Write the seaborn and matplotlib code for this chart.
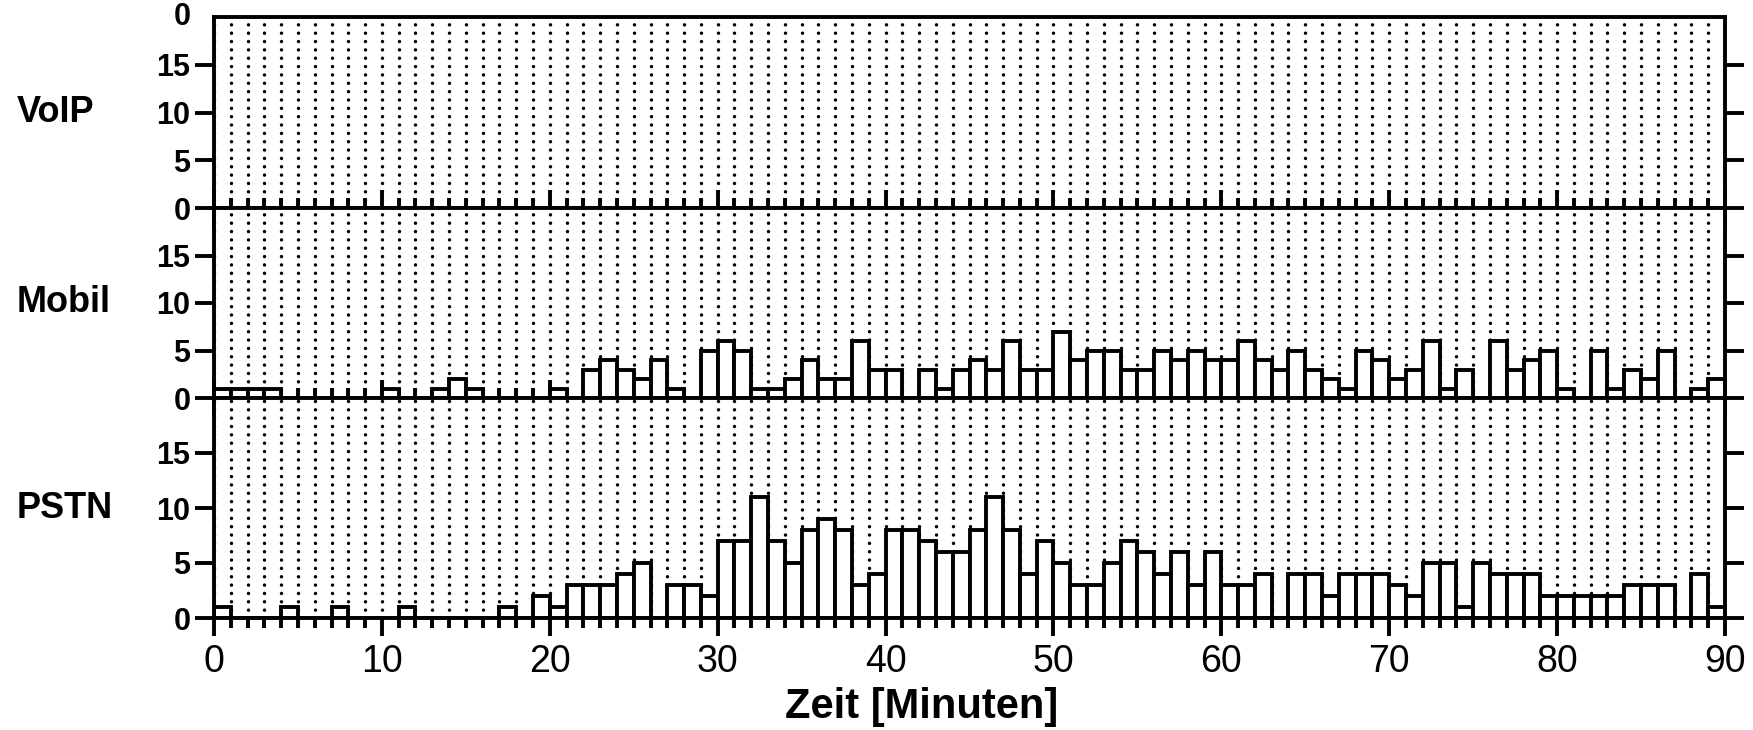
import numpy as np
import pandas as pd
import matplotlib
matplotlib.use("Agg")
import matplotlib.pyplot as plt
import seaborn as sns
from matplotlib.ticker import MultipleLocator

sns.set_theme(style="white")
plt.rcParams["font.family"] = ["Liberation Sans", "DejaVu Sans"]
plt.rcParams["lines.scale_dashes"] = False

# ---------------- data ----------------
minutes = list(range(90))
panel_names = ["VoIP", "Mobil", "PSTN"]

voip_counts = [0, 0, 0, 0, 0, 0, 0, 0, 0, 0,
               0, 0, 0, 0, 0, 0, 0, 0, 0, 0,
               0, 0, 0, 0, 0, 0, 0, 0, 0, 0,
               0, 0, 0, 0, 0, 0, 0, 0, 0, 0,
               0, 0, 0, 0, 0, 0, 0, 0, 0, 0,
               0, 0, 0, 0, 0, 0, 0, 0, 0, 0,
               0, 0, 0, 0, 0, 0, 0, 0, 0, 0,
               0, 0, 0, 0, 0, 0, 0, 0, 0, 0,
               0, 0, 0, 0, 0, 0, 0, 0, 0, 0]

mobil_counts = [1, 1, 1, 1, 0, 0, 0, 0, 0, 0,
                1, 0, 0, 1, 2, 1, 0, 0, 0, 0,
                1, 0, 3, 4, 3, 2, 4, 1, 0, 5,
                6, 5, 1, 1, 2, 4, 2, 2, 6, 3,
                3, 0, 3, 1, 3, 4, 3, 6, 3, 3,
                7, 4, 5, 5, 3, 3, 5, 4, 5, 4,
                4, 6, 4, 3, 5, 3, 2, 1, 5, 4,
                2, 3, 6, 1, 3, 0, 6, 3, 4, 5,
                1, 0, 5, 1, 3, 2, 5, 0, 1, 2]

pstn_counts = [1, 0, 0, 0, 1, 0, 0, 1, 0, 0,
               0, 1, 0, 0, 0, 0, 0, 1, 0, 2,
               1, 3, 3, 3, 4, 5, 0, 3, 3, 2,
               7, 7, 11, 7, 5, 8, 9, 8, 3, 4,
               8, 8, 7, 6, 6, 8, 11, 8, 4, 7,
               5, 3, 3, 5, 7, 6, 4, 6, 3, 6,
               3, 3, 4, 0, 4, 4, 2, 4, 4, 4,
               3, 2, 5, 5, 1, 5, 4, 4, 4, 2,
               2, 2, 2, 2, 3, 3, 3, 0, 4, 1]

y_ticks = [0, 5, 10, 15]
y_tick_labels = ["0", "5", "10", "15"]
x_ticks = [0, 10, 20, 30, 40, 50, 60, 70, 80, 90]
x_tick_labels = ["0", "10", "20", "30", "40", "50", "60", "70", "80", "90"]
x_label = "Zeit [Minuten]"

series = [voip_counts, mobil_counts, pstn_counts]

# ---------------- figure ----------------
W, H = 1753, 730
fig = plt.figure(figsize=(W / 100, H / 100), dpi=100)

left_px, right_px = 214, 1725
bounds_px = [17, 208, 398, 618]   # top of VoIP, boundaries, bottom of PSTN

LW = 2.8
axes = []
for i, (name, counts) in enumerate(zip(panel_names, series)):
    top, bot = bounds_px[i], bounds_px[i + 1]
    ax = fig.add_axes([left_px / W, 1 - bot / H, (right_px - left_px) / W, (bot - top) / H])
    axes.append(ax)
    df = pd.DataFrame({"minute": np.array(minutes, dtype=float) + 0.5, "count": counts})
    sns.barplot(data=df, x="minute", y="count", native_scale=True, width=1.0,
                color="white", saturation=1, edgecolor="black", linewidth=LW,
                errorbar=None, ax=ax, zorder=2)
    ax.set_xlim(0, 90)
    ax.set_ylim(0, 20)
    ax.set_xlabel("")
    ax.set_ylabel("")
    ax.set_facecolor("white")
    ax.set_axisbelow(True)
    for sp in ax.spines.values():
        sp.set_color("black")
        sp.set_linewidth(LW)
        sp.set_zorder(5)

    # dotted vertical grid at each minute
    ax.xaxis.set_major_locator(MultipleLocator(10))
    ax.xaxis.set_minor_locator(MultipleLocator(1))
    ax.grid(which="both", axis="x", color="black", linewidth=2.5,
            linestyle=(0, (0.01, 6.0)), dash_capstyle="round")
    ax.grid(which="both", axis="y", visible=False)

    ax.set_yticks(y_ticks, labels=y_tick_labels, fontweight="bold", fontsize=22)
    ax.tick_params(axis="y", which="major", left=True, right=True, direction="out",
                   length=14, width=LW, color="black", pad=3, labelcolor="black")

    if i < 2:
        ax.tick_params(axis="x", which="minor", bottom=True, top=False,
                       direction="inout", length=14.4, width=LW, color="black")
        ax.tick_params(axis="x", which="major", bottom=True, top=False,
                       direction="inout", length=26, width=LW, color="black",
                       labelbottom=False)
    else:
        ax.set_xticks(x_ticks, labels=x_tick_labels)
        ax.tick_params(axis="x", which="minor", bottom=True, top=False,
                       direction="out", length=7.5, width=LW, color="black")
        ax.tick_params(axis="x", which="major", bottom=True, top=False,
                       direction="out", length=13, width=LW, color="black",
                       labelbottom=True, labelsize=27, pad=6, labelcolor="black")

    fig.text(17 / W, 1 - ((top + bot) / 2) / H, name, ha="left", va="center",
             fontsize=26, fontweight="bold", color="black")

# top "0" label of the VoIP panel
axes[0].annotate("0", xy=(0, 20), xycoords=("axes fraction", "data"),
                 xytext=(-17, 0), textcoords="offset points", ha="right",
                 va="center", fontsize=22, fontweight="bold", color="black")

fig.text(922 / W, 1 - 718 / H, x_label, ha="center", va="baseline",
         fontsize=30, fontweight="bold", color="black")

fig.savefig("out.png", dpi=100, facecolor="white")
